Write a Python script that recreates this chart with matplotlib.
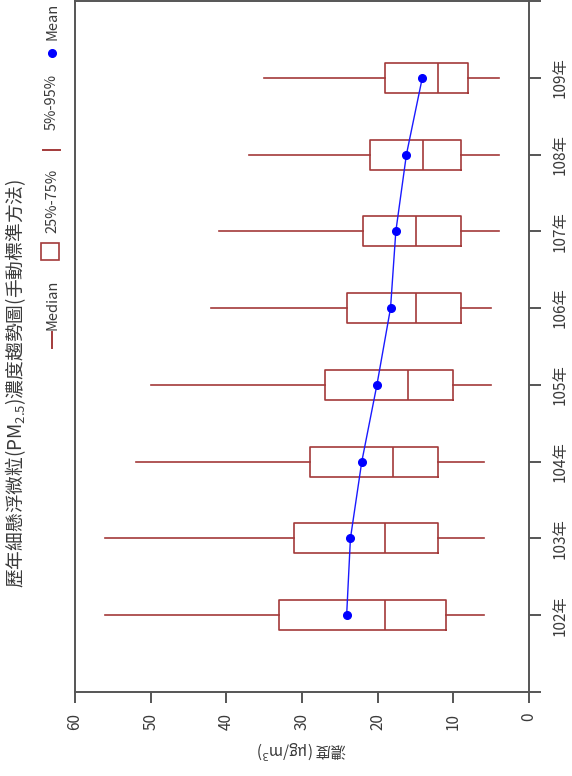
import matplotlib
matplotlib.use('Agg')
import matplotlib.pyplot as plt
from matplotlib.lines import Line2D
from matplotlib.patches import Rectangle

plt.rcParams['font.family'] = ['Noto Sans CJK TC', 'DejaVu Sans']

# data (ug/m3)
years = ['102年', '103年', '104年', '105年', '106年', '107年', '108年', '109年']
p5 = [6, 6, 6, 5, 5, 4, 4, 4]
p25 = [11, 12, 12, 10, 9, 9, 9, 8]
median = [19, 19, 18, 16, 15, 15, 14, 12]
p75 = [33, 31, 29, 27, 24, 22, 21, 19]
p95 = [56, 56, 52, 50, 42, 41, 37, 35]
mean = [24.1, 23.6, 22.1, 20.1, 18.3, 17.6, 16.2, 14.1]

box_col = '#a33a3a'
txt_col = '#3a3a3a'
spine_col = '#555555'

W, H = 572, 776
fig = plt.figure(figsize=(W / 100, H / 100), dpi=100)
ax = fig.add_axes([75 / W, 1 - 692 / H, (529 - 75) / W, 691 / H])

pos = list(range(len(years)))
stats = []
for i in pos:
    stats.append(dict(med=median[i], q1=p25[i], q3=p75[i],
                      whislo=p5[i], whishi=p95[i], fliers=[]))

ax.bxp(stats, positions=pos, orientation='horizontal', widths=0.39,
       showcaps=False, showfliers=False,
       boxprops=dict(color=box_col, linewidth=1.2),
       whiskerprops=dict(color=box_col, linewidth=1.2),
       medianprops=dict(color=box_col, linewidth=1.2))

ax.plot(mean, pos, color='#1a1aff', lw=1.0, marker='o', ms=5.5,
        markerfacecolor='#0000ff', markeredgecolor='#0000ff', zorder=5)

ax.set_xlim(60, 0)
ax.set_ylim(-1, 8)
ax.set_xticks([60, 50, 40, 30, 20, 10, 0])
ax.set_yticks([-1] + pos + [8])
ax.set_yticklabels([''] + years + [''])
ax.yaxis.tick_right()

for s in ax.spines.values():
    s.set_color(spine_col)
    s.set_linewidth(1.4)

ax.tick_params(axis='x', direction='out', length=8, width=1.4, color=spine_col,
               pad=7, labelrotation=90, labelsize=11, labelcolor=txt_col)
ax.tick_params(axis='y', direction='out', length=8.5, width=1.4, color=spine_col,
               pad=8, labelrotation=90, labelsize=11, labelcolor=txt_col)
for lab in ax.get_yticklabels():
    lab.set_va('center')

ax.set_xlabel('濃度 (μg/m$^3$)', rotation=180, fontsize=11, color=txt_col,
              labelpad=6)

# title, rotated like the rest of the chart
fig.text(16 / W, 1 - 383 / H,
         '歷年細懸浮微粒(PM$\\mathregular{_{2.5}}$)濃度趨勢圖(手動標準方法)',
         rotation=90, ha='center', va='center', fontsize=13.5, color=txt_col)

# legend drawn by hand (vertical row)
lx = 52 / W
fig.add_artist(Line2D([lx, lx], [1 - 348 / H, 1 - 332 / H], color=box_col,
                      lw=1.4, transform=fig.transFigure))
fig.text(lx, 1 - 305 / H, 'Median', rotation=90, ha='center', va='center',
         fontsize=10.5, color=txt_col)
fig.add_artist(Rectangle((41 / W, 1 - 260 / H), 18 / W, 17 / H,
                         facecolor='white', edgecolor=box_col, lw=1.2,
                         transform=fig.transFigure))
fig.text(lx, 1 - 201 / H, '25%-75%', rotation=90, ha='center', va='center',
         fontsize=10.5, color=txt_col)
fig.add_artist(Line2D([43 / W, 60 / W], [1 - 150 / H, 1 - 150 / H], color=box_col,
                      lw=1.4, transform=fig.transFigure))
fig.text(lx, 1 - 102 / H, '5%-95%', rotation=90, ha='center', va='center',
         fontsize=10.5, color=txt_col)
fig.add_artist(Line2D([lx], [1 - 53 / H], marker='o', ms=5.5, color='#0000ff',
                      transform=fig.transFigure))
fig.text(lx, 1 - 21 / H, 'Mean', rotation=90, ha='center', va='center',
         fontsize=10.5, color=txt_col)

fig.savefig('out.png', dpi=100)
